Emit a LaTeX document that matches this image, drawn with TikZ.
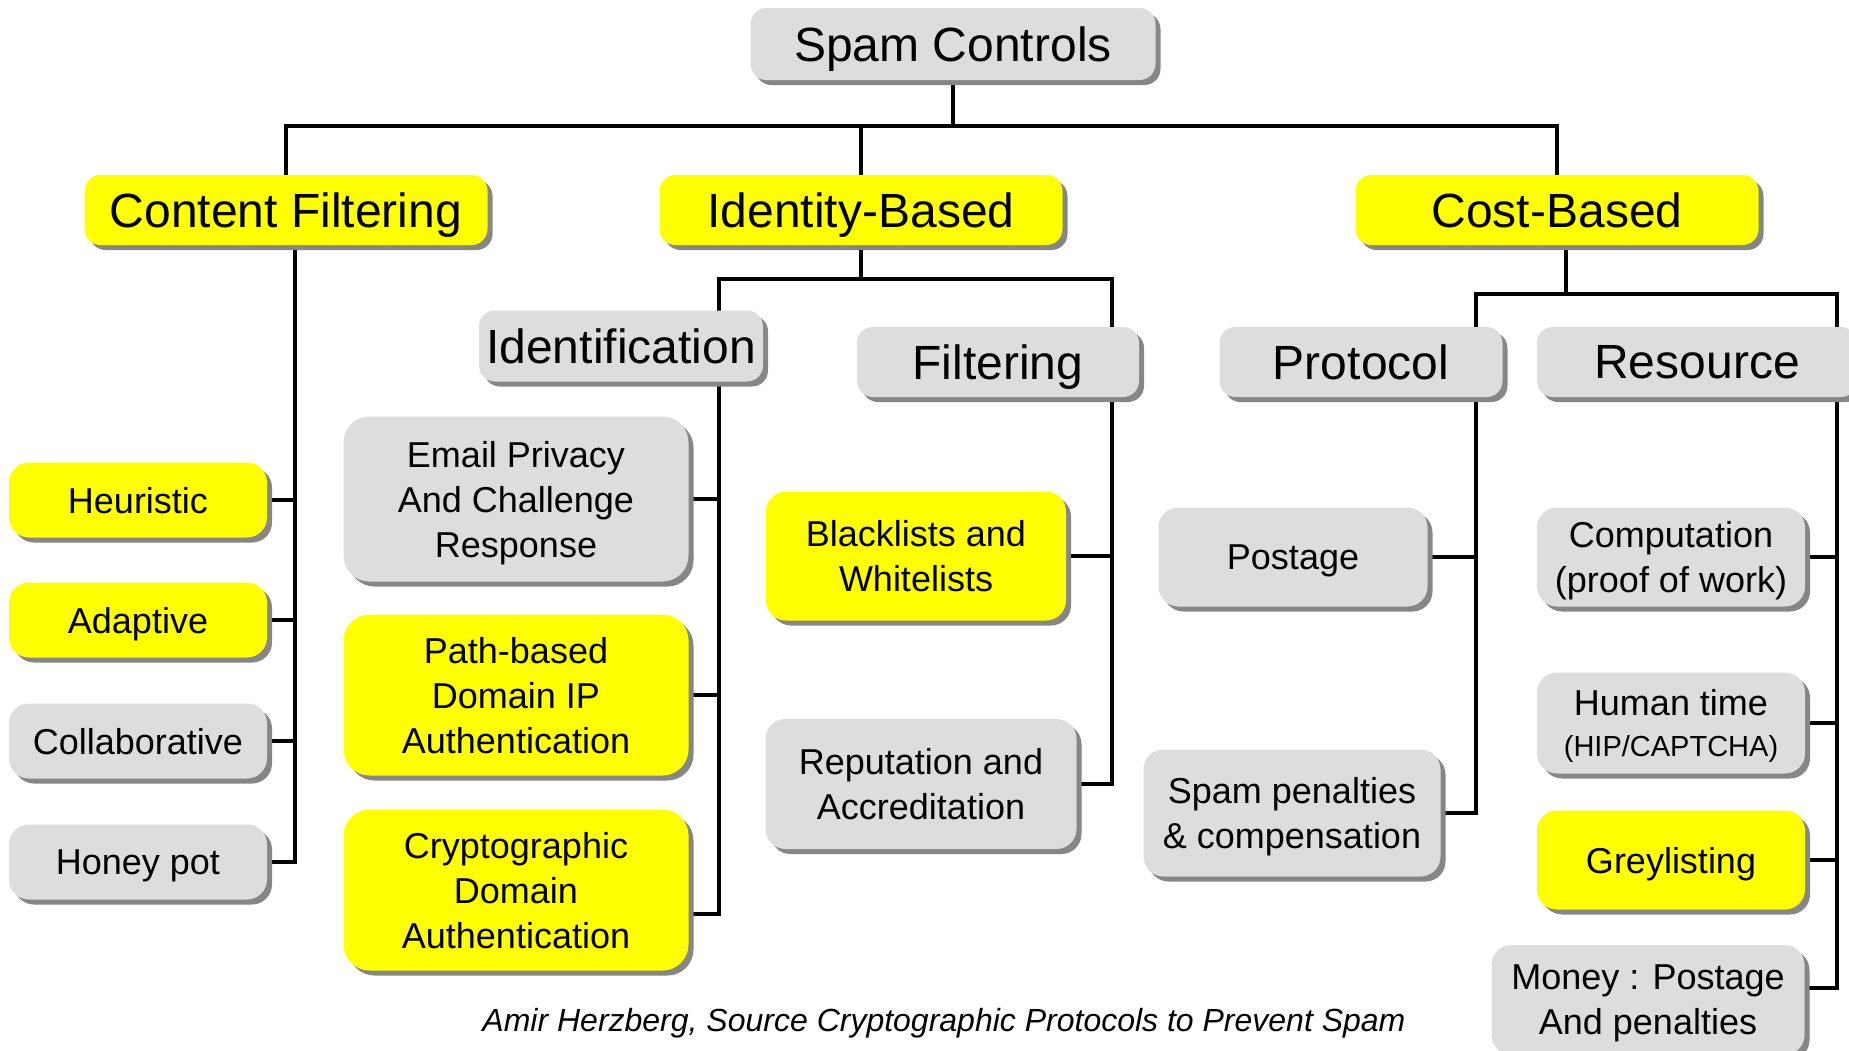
\documentclass[tikz,border=0pt]{standalone}
\usepackage{fontspec}
\setmainfont{Liberation Sans}
\usetikzlibrary{positioning,shadows,backgrounds}
\definecolor{boxgray}{HTML}{DDDDDD}
\definecolor{shadegray}{HTML}{868686}
\definecolor{hiyellow}{HTML}{FFFF00}

\begin{document}
\begin{tikzpicture}[x=1pt, y=-1pt,
    every node/.style={inner sep=0pt, align=center, text=black, text depth=0pt},
    box/.style={fill=boxgray, rounded corners=16pt,
        drop shadow={shadow xshift=5pt, shadow yshift=-5pt, fill=shadegray, opacity=1}},
    hl/.style={fill=hiyellow},
    big/.style={font=\fontsize{48}{56}\selectfont},
    small/.style={font=\fontsize{36}{45}\selectfont, rounded corners=20pt},
    large/.style={small, rounded corners=26pt},
    wire/.style={draw=black, line width=3.3pt, line cap=rect}
    ]
\useasboundingbox (0,0) rectangle (1849,1050);
\clip (0,0) rectangle (1849,1050);
% top
\node[box, big, minimum width=405pt, minimum height=72pt] (root) at (953,44) {Spam Controls};
\node[box, hl, big, minimum width=403pt, minimum height=70pt] (cf)  at (286,210)  {Content Filtering};
\node[box, hl, big, minimum width=403pt, minimum height=70pt] (idb) at (861,210)  {Identity-Based};
\node[box, hl, big, minimum width=403pt, minimum height=70pt] (cb)  at (1557,210) {Cost-Based};
% Content Filtering
\node[box, hl, small, minimum width=258pt, minimum height=75pt] (heur)  at (138,500) {Heuristic};
\node[box, hl, small, minimum width=258pt, minimum height=75pt] (adap)  at (138,620) {Adaptive};
\node[box, small, minimum width=258pt, minimum height=75pt]     (coll)  at (138,741) {Collaborative};
\node[box, small, minimum width=258pt, minimum height=75pt]     (honey) at (138,862) {Honey pot};
% Identity-Based
\node[box, big, minimum width=284pt, minimum height=71pt] (ident) at (621,346) {Identification};
\node[box, big, minimum width=282pt, minimum height=70pt] (filt)  at (998,362) {Filtering};
\node[box, large, minimum width=345pt, minimum height=165pt]     (email)  at (516,499) {Email Privacy\\And Challenge\\Response};
\node[box, hl, large, minimum width=345pt, minimum height=161pt] (path)   at (516,695) {Path-based\\Domain IP\\Authentication};
\node[box, hl, large, minimum width=345pt, minimum height=161pt] (crypto) at (516,890) {Cryptographic\\Domain\\Authentication};
\node[box, hl, small, minimum width=300pt, minimum height=129pt] (black)  at (916,556) {Blacklists and\\Whitelists};
\node[box, small, minimum width=311pt, minimum height=130pt]     (rep)    at (921,784) {Reputation and\\Accreditation};
% Cost-Based
\node[box, big, minimum width=283pt, minimum height=70pt] (prot) at (1361,362) {Protocol};
\node[box, big, minimum width=320pt, minimum height=70pt] (res)  at (1697,362) {Resource};
\node[box, small, minimum width=269pt, minimum height=99pt]  (post)  at (1293,557) {Postage};
\node[box, small, minimum width=297pt, minimum height=127pt] (pen)   at (1292,813) {Spam penalties\\\& compensation};
\node[box, small, minimum width=268pt, minimum height=99pt]  (comp)  at (1671,557) {Computation\\(proof of work)};
\node[box, small, minimum width=268pt, minimum height=101pt, font=\fontsize{36}{41}\selectfont] (human) at (1671,723)
    {Human time\\{\fontsize{29}{34}\selectfont(HIP/CAPTCHA)}};
\node[box, hl, small, minimum width=268pt, minimum height=99pt] (grey) at (1671,860) {Greylisting};
\node[box, small, minimum width=313pt, minimum height=110pt] (money) at (1648,1000) {Money : Postage\\And penalties};
\node[font=\fontsize{32}{38}\selectfont\itshape] (cap) at (944,1020) {Amir Herzberg, Source Cryptographic Protocols to Prevent Spam};

\begin{pgfonlayer}{background}
\coordinate (topy) at (0,126);
\coordinate (idy)  at (0,279);
\coordinate (cby)  at (0,294);
\coordinate (cfx)  at (295,0);
\coordinate (idx)  at (719,0);
\coordinate (fx)   at (1112,0);
\coordinate (px)   at (1476,0);
\coordinate (rx)   at (1837,0);
\draw[wire] (root.south) -- (root.south |- topy);
\draw[wire] (cf.north) |- (root.south |- topy) -| (cb.north);
\draw[wire] (idb.north) -- (idb.north |- topy);
% Content Filtering
\foreach \n in {heur,adap,coll,honey}
    \draw[wire] (cf.south -| cfx) |- (\n.east);
% Identity-Based
\draw[wire] (idb.south) -- (idb.south |- idy);
\draw[wire] (idy -| idx) -- (idy -| fx);
\foreach \n in {email,path}
    \draw[wire] (idy -| idx) |- (\n.east);
\draw[wire] (idy -| idx) |- ([yshift=-24pt]crypto.east);
\foreach \n in {black,rep}
    \draw[wire] (idy -| fx) |- (\n.east);
% Cost-Based
\draw[wire] ([xshift=9pt]cb.south) -- ([xshift=9pt]cb.south |- cby);
\draw[wire] (cby -| px) -- (cby -| rx);
\foreach \n in {post,pen}
    \draw[wire] (cby -| px) |- (\n.east);
\foreach \n in {comp,human,grey}
    \draw[wire] (cby -| rx) |- (\n.east);
\draw[wire] (cby -| rx) |- ([yshift=12pt]money.east);
\end{pgfonlayer}
\end{tikzpicture}
\end{document}
